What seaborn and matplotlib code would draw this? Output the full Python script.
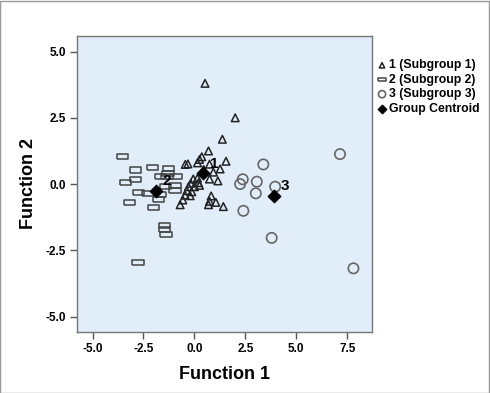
import numpy as np
import pandas as pd
import seaborn as sns
import matplotlib.pyplot as plt
from matplotlib.patches import Rectangle

# canonical discriminant functions
g1_f1 = [0.52, 2.0, 1.37, 0.69, 1.55, 0.36, 0.25, 0.15, -0.32, -0.45, 0.74, 1.26,
         0.93, 0.74, 1.15, 0.15, -0.06, -0.18, 0.20, -0.29, 0.0, 0.25, -0.37, -0.13,
         -0.46, -0.21, -0.57, -0.70, 0.82, 0.74, 1.05, 0.69, 1.42, 0.45]
g1_f2 = [3.80, 2.5, 1.69, 1.25, 0.86, 1.03, 0.93, 0.80, 0.76, 0.74, 0.75, 0.57,
         0.45, 0.19, 0.12, 0.22, 0.19, 0.03, 0.05, -0.10, -0.10, -0.05, -0.25, -0.29,
         -0.42, -0.44, -0.60, -0.78, -0.45, -0.65, -0.69, -0.78, -0.85, 0.55]

g2_f1 = [-3.53, -2.91, -2.04, -1.27, -1.30, -3.40, -2.89, -1.68, -0.90, -1.35, -0.95,
         -0.95, -1.40, -2.74, -2.28, -1.68, -1.76, -3.20, -2.0, -1.47, -1.47, -1.39, -2.77]
g2_f2 = [1.03, 0.53, 0.62, 0.57, 0.40, 0.06, 0.18, 0.28, 0.30, 0.30, -0.04,
         -0.23, -0.10, -0.31, -0.35, -0.38, -0.57, -0.70, -0.89, -1.57, -1.70, -1.90, -2.95]

g3_f1 = [7.14, 3.38, 2.37, 2.24, 3.06, 3.01, 3.96, 2.40, 3.79, 7.80]
g3_f2 = [1.13, 0.74, 0.18, 0.0, 0.09, -0.35, -0.10, -1.01, -2.03, -3.18]

cent_f1 = [0.44, -1.88, 3.91]
cent_f2 = [0.40, -0.25, -0.45]
cent_lab = ['1', '2', '3']

legend_labels = ['1 (Subgroup 1)', '2 (Subgroup 2)', '3 (Subgroup 3)', 'Group Centroid']

plt.rcParams['font.family'] = ['Liberation Sans', 'DejaVu Sans']

df1 = pd.DataFrame({'f1': g1_f1, 'f2': g1_f2})
df2 = pd.DataFrame({'f1': g2_f1, 'f2': g2_f2})
df3 = pd.DataFrame({'f1': g3_f1, 'f2': g3_f2})
dfc = pd.DataFrame({'f1': cent_f1, 'f2': cent_f2})

fig = plt.figure(figsize=(4.9, 3.93), dpi=100)
ax = fig.add_axes([0.158, 0.156, 0.602, 0.752])
ax.set_facecolor('#e1edf9')

rect = [(-1, -0.45), (1, -0.45), (1, 0.45), (-1, 0.45), (-1, -0.45)]

sns.scatterplot(data=df1, x='f1', y='f2', marker='^', s=30, facecolor='none',
                edgecolor='#222222', linewidth=1.1, label=legend_labels[0], ax=ax)
sns.scatterplot(data=df2, x='f1', y='f2', marker=rect, s=65, facecolor='none',
                edgecolor='#444444', linewidth=1.1, label=legend_labels[1], ax=ax)
sns.scatterplot(data=df3, x='f1', y='f2', marker='o', s=55, facecolor='none',
                edgecolor='#666666', linewidth=1.2, label=legend_labels[2], ax=ax)
sns.scatterplot(data=dfc, x='f1', y='f2', marker='D', s=45, color='black',
                edgecolor='black', label=legend_labels[3], ax=ax, zorder=5)

for x, y, t in zip(cent_f1, cent_f2, cent_lab):
    ax.annotate(t, (x, y), xytext=(8, 7), textcoords='offset points',
                ha='center', va='center', fontsize=11, fontweight='bold')

ax.set_xlim(-5.74, 8.73)
ax.set_ylim(-5.57, 5.58)
ax.set_xticks([-5.0, -2.5, 0.0, 2.5, 5.0, 7.5])
ax.set_yticks([-5.0, -2.5, 0.0, 2.5, 5.0])
ax.set_xticklabels(['-5.0', '-2.5', '0.0', '2.5', '5.0', '7.5'], fontweight='bold', fontsize=8.5)
ax.set_yticklabels(['-5.0', '-2.5', '0.0', '2.5', '5.0'], fontweight='bold', fontsize=8.5)
ax.tick_params(length=5, width=1, color='#555555', pad=3)
for sp in ax.spines.values():
    sp.set_color('#777777')
    sp.set_linewidth(1)

ax.set_xlabel('Function 1', fontsize=13, fontweight='bold', labelpad=8)
ax.set_ylabel('Function 2', fontsize=13, fontweight='bold', labelpad=6)

leg = ax.legend(loc='upper left', bbox_to_anchor=(0.985, 0.95), frameon=False,
                prop={'weight': 'bold', 'size': 8.8}, handletextpad=0.15,
                labelspacing=0.2, borderaxespad=0.3, handlelength=0.9, markerscale=0.7)

fig.patches.append(Rectangle((0.001, 0.0), 0.997, 0.998, transform=fig.transFigure,
                             fill=False, edgecolor='#999999', linewidth=1))

fig.savefig('out.png', dpi=100)
